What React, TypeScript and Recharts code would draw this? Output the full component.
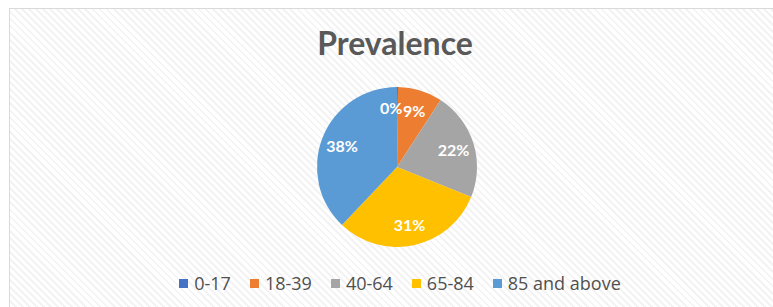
import React from "react";
import { PieChart, Pie, Cell, Legend } from "recharts";

const categories = ["0-17", "18-39", "40-64", "65-84", "85 and above"];
const prevalence = [0.2, 9, 22, 31, 38];
const colors = ["#4472C4", "#ED7D31", "#A5A5A5", "#FFC000", "#5B9BD5"];
const title = "Prevalence";

const data = categories.map((name, i) => ({ name, value: prevalence[i] }));

const RADIAN = Math.PI / 180;

const renderLabel = (props: any) => {
  const { cx, cy, midAngle, outerRadius, value, percent } = props;
  const r = outerRadius * 0.74;
  const x = cx + r * Math.cos(-midAngle * RADIAN);
  const y = cy + r * Math.sin(-midAngle * RADIAN);
  const tiny = percent < 0.01;
  return (
    <text
      x={tiny ? x + 5 : x}
      y={y}
      fill="#ffffff"
      textAnchor={tiny ? "end" : "middle"}
      dominantBaseline="central"
      fontFamily="Lato, 'Open Sans', sans-serif"
      fontWeight={700}
      fontSize={16}
    >
      {`${Math.round(value)}%`}
    </text>
  );
};

const renderLegend = (props: any) => {
  const { payload } = props;
  return (
    <div
      style={{
        display: "flex",
        justifyContent: "center",
        gap: 19,
        paddingLeft: 18,
        fontFamily: "'Open Sans', sans-serif",
        fontSize: 18,
        lineHeight: "24px",
        color: "#505050",
      }}
    >
      {(payload || []).map((entry: any, i: number) => (
        <div key={i} style={{ display: "flex", alignItems: "center" }}>
          <span
            style={{
              display: "inline-block",
              width: 9,
              height: 9,
              background: entry.color,
              marginRight: 6,
            }}
          />
          <span>{entry.value}</span>
        </div>
      ))}
    </div>
  );
};

export default function App() {
  return (
    <div
      style={{
        position: "fixed",
        left: 9,
        top: 8,
        width: 764,
        height: 299,
        borderLeft: "1px solid #d9d9d9",
        borderTop: "1px solid #d9d9d9",
        boxSizing: "border-box",
        background:
          "repeating-linear-gradient(45deg, #ffffff 0px, #ffffff 3px, #f3f3f3 3px, #f3f3f3 5px)",
        overflow: "hidden",
      }}
    >
      <div
        style={{
          position: "absolute",
          left: 0,
          width: 764,
          top: 16,
          textAlign: "center",
          paddingLeft: 6,
          boxSizing: "border-box",
          fontFamily: "Lato, 'Open Sans', sans-serif",
          fontWeight: 700,
          fontSize: 32,
          lineHeight: "36px",
          color: "#595959",
        }}
      >
        {title}
      </div>
      <div style={{ position: "absolute", left: -1, top: -1 }}>
        <PieChart width={764} height={299} margin={{ top: 0, right: 0, bottom: 0, left: 0 }}>
          <Pie
            data={data}
            dataKey="value"
            nameKey="name"
            cx={388}
            cy={159}
            outerRadius={80}
            startAngle={90}
            endAngle={-270}
            stroke="none"
            label={renderLabel}
            labelLine={false}
            isAnimationActive={false}
          >
            {data.map((_, i) => (
              <Cell key={i} fill={colors[i]} />
            ))}
          </Pie>
          <Legend
            content={renderLegend}
            wrapperStyle={{ position: "absolute", top: 263, left: 0, width: 764 }}
          />
        </PieChart>
      </div>
    </div>
  );
}
